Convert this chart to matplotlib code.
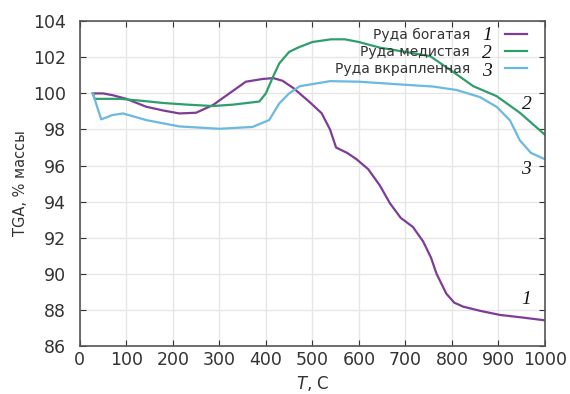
import matplotlib
matplotlib.use("Agg")
import matplotlib.pyplot as plt

# curve 1: Руда богатая
t_rich = [28, 50, 71, 100, 143, 180, 214, 250, 286, 316, 357, 393, 416, 436, 459, 495,
          520, 538, 551, 575, 595, 620, 645, 667, 690, 716, 738, 755, 767, 788, 805,
          824, 860, 903, 950, 1000]
w_rich = [100.0, 100.0, 99.9, 99.7, 99.26, 99.05, 98.89, 98.93, 99.35, 99.9, 100.65,
          100.8, 100.85, 100.7, 100.3, 99.5, 98.9, 98.0, 97.0, 96.7, 96.35, 95.8, 94.9,
          93.9, 93.1, 92.6, 91.8, 90.9, 90.0, 88.9, 88.4, 88.18, 87.95, 87.72, 87.58,
          87.42]

# curve 2: Руда медистая
t_cu = [28, 32, 60, 86, 130, 179, 230, 286, 330, 386, 400, 415, 429, 450, 470, 500,
        540, 570, 600, 645, 700, 753, 810, 846, 896, 946, 996, 1000]
w_cu = [100.0, 99.7, 99.7, 99.7, 99.6, 99.47, 99.38, 99.3, 99.38, 99.55, 100.0, 100.9,
        101.67, 102.3, 102.55, 102.85, 103.0, 103.0, 102.85, 102.54, 102.3, 102.07,
        101.06, 100.4, 99.85, 98.93, 97.8, 97.7]

# curve 3: Руда вкрапленная
t_dis = [28, 46, 70, 93, 143, 214, 300, 371, 407, 429, 450, 473, 538, 600, 688, 760,
         810, 860, 896, 925, 946, 970, 1000]
w_dis = [100.0, 98.56, 98.8, 98.89, 98.52, 98.17, 98.04, 98.14, 98.52, 99.45, 100.0,
         100.4, 100.68, 100.65, 100.5, 100.38, 100.19, 99.8, 99.26, 98.5, 97.4, 96.7,
         96.35]

names = ["Руда богатая", "Руда медистая", "Руда вкрапленная"]
nums = ["1", "2", "3"]
colors = ["#7d3c98", "#2e9e6b", "#6bb8e0"]
# where the curve numbers sit (T, %)
num_pos = [(960, 88.6), (962, 99.4), (960, 95.8)]

fig = plt.figure(figsize=(5.7, 3.94), dpi=100)
ax = fig.add_axes([0.140, 0.122, 0.816, 0.824])

for t, w, name, c in zip([t_rich, t_cu, t_dis], [w_rich, w_cu, w_dis], names, colors):
    ax.plot(t, w, color=c, lw=1.6, label=name)

numfont = dict(fontsize=14, style="italic", family="Liberation Serif",
               ha="center", va="center", color="#111111")
for n, (x, y) in zip(nums, num_pos):
    ax.text(x, y, n, **numfont)

# numbers inside the legend
for n, y in zip(nums, [0.957, 0.902, 0.846]):
    ax.text(0.875, y, n, transform=ax.transAxes, **numfont)

ax.set_xlim(0, 1000)
ax.set_ylim(86, 104)
ax.set_xticks(range(0, 1001, 100))
ax.set_yticks(range(86, 105, 2))
ax.grid(True, color="#e6e6e6", lw=1)
ax.tick_params(direction="in", top=True, right=True, labelsize=12.5,
               colors="#333333", length=4)
ax.tick_params(axis="y", pad=10)
for s in ax.spines.values():
    s.set_color("#555555")
    s.set_linewidth(1.2)

ax.set_ylabel("TGA, % массы", fontsize=10.5, color="#333333")
ax.yaxis.set_label_coords(-0.112, 0.5)
ax.set_xlabel("$\\mathit{T}$, C", fontsize=12, color="#333333")

leg = ax.legend(loc="upper right", bbox_to_anchor=(1.0, 1.035), frameon=False,
                markerfirst=False, fontsize=10, handlelength=1.6,
                handletextpad=2.5, labelspacing=0.22, borderaxespad=0.9)
for txt in leg.get_texts():
    txt.set_color("#333333")

fig.savefig("out.png", dpi=100)
